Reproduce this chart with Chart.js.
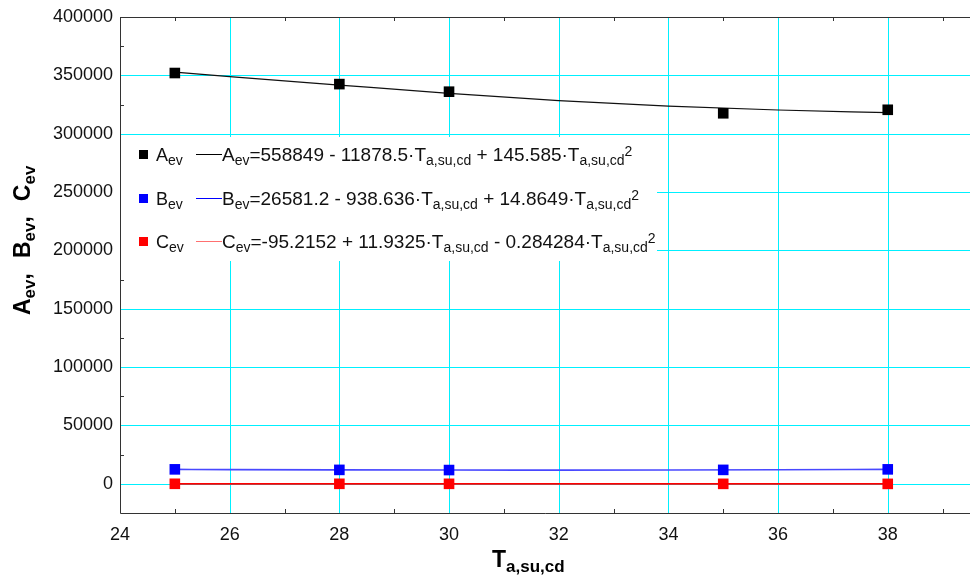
<!DOCTYPE html>
<html>
<head>
<meta charset="utf-8">
<script src="https://cdn.jsdelivr.net/npm/chart.js@4/dist/chart.umd.min.js"></script>
<style>
  html, body { margin: 0; padding: 0; background: #fff; }
  canvas { display: block; }
</style>
</head>
<body>
<canvas id="evChart" width="970" height="581"></canvas>
<script>
// ── Data ─────────────────────────────────────────────────────
var xTicks = [24, 26, 28, 30, 32, 34, 36, 38];
var yTicks = [0, 50000, 100000, 150000, 200000, 250000, 300000, 350000, 400000];

var tempPoints = [25, 28, 30, 35, 38];
var aValues = [352000, 342500, 336000, 317500, 320500];
var bValues = [12400, 11950, 11800, 11950, 12400];
var cValues = [25, 15, 5, -15, -50];

// regression curves, sampled along the temperature axis
var fitTemps = [25, 26, 28, 30, 32, 34, 36, 38];
var aFit = [352800, 348900, 341700, 334600, 328300, 323700, 320300, 318000];
var bFit = [12400, 12200, 11950, 11800, 11750, 11850, 12050, 12400];
var cFit = [25, 20, 15, 5, -5, -20, -35, -50];

var seriesNames = ['A', 'B', 'C'];
var eqHead = ['=558849 - 11878.5·T', '=26581.2 - 938.636·T', '=-95.2152 + 11.9325·T'];
var eqTail = [' + 145.585·T', ' + 14.8649·T', ' - 0.284284·T'];

var FONT = '"Liberation Sans", Arial, sans-serif';
var GRID = '#00f0ff';
var AXIS = '#333';

function pts(xs, ys) {
  return xs.map(function(x, i) { return { x: x, y: ys[i] }; });
}

// ── Rich text helper (sub/superscripts) ──────────────────────
function drawRuns(ctx, runs, x, y) {
  runs.forEach(function(r) {
    ctx.font = (r.bold ? 'bold ' : '') + r.size + 'px ' + FONT;
    ctx.fillText(r.t, x, y + (r.dy || 0));
    x += ctx.measureText(r.t).width + (r.gap || 0);
  });
  return x;
}

// ── Crisp cyan grid under the data ───────────────────────────
var gridPlugin = {
  id: 'cyanGrid',
  beforeDatasetsDraw: function(chart) {
    var ctx = chart.ctx, a = chart.chartArea;
    ctx.save();
    ctx.strokeStyle = GRID;
    ctx.lineWidth = 1;
    ctx.beginPath();
    xTicks.forEach(function(t) {
      var px = Math.round(chart.scales.x.getPixelForValue(t)) + 0.5;
      ctx.moveTo(px, a.top); ctx.lineTo(px, a.bottom);
    });
    yTicks.forEach(function(v) {
      var py = Math.round(chart.scales.y.getPixelForValue(v)) + 0.5;
      ctx.moveTo(a.left, py); ctx.lineTo(a.right, py);
    });
    ctx.stroke();
    ctx.restore();
  }
};

// ── Axes, minor ticks, titles, legend ────────────────────────
var decorPlugin = {
  id: 'decor',
  afterDraw: function(chart) {
    var ctx = chart.ctx, a = chart.chartArea;
    var xs = chart.scales.x, ys = chart.scales.y;
    ctx.save();

    // axis frame: left, bottom, top
    ctx.strokeStyle = AXIS;
    ctx.lineWidth = 1;
    ctx.beginPath();
    ctx.moveTo(a.left + 0.5, a.top); ctx.lineTo(a.left + 0.5, a.bottom + 0.5);
    ctx.lineTo(a.right, a.bottom + 0.5);
    ctx.moveTo(a.left, a.top + 0.5); ctx.lineTo(a.right, a.top + 0.5);
    ctx.stroke();

    // minor ticks
    ctx.beginPath();
    for (var t = 25; t < 40; t += 2) {
      var px = Math.round(xs.getPixelForValue(t)) + 0.5;
      ctx.moveTo(px, a.bottom); ctx.lineTo(px, a.bottom - 4);
      ctx.moveTo(px, a.top); ctx.lineTo(px, a.top + 4);
    }
    for (var v = 25000; v < 400000; v += 50000) {
      var py = Math.round(ys.getPixelForValue(v)) + 0.5;
      ctx.moveTo(a.left, py); ctx.lineTo(a.left + 4, py);
    }
    ctx.stroke();

    // legend panel
    ctx.fillStyle = '#fff';
    ctx.fillRect(a.left + 1, 137, 536, 124);
    var rowsY = [154, 198, 241];
    var markColors = ['#000', '#0000ff', '#ff0000'];
    var lineColors = ['#000', '#0000ff', '#ff7070'];
    ctx.textBaseline = 'alphabetic';
    ctx.textAlign = 'left';
    rowsY.forEach(function(ry, i) {
      ctx.fillStyle = markColors[i];
      ctx.fillRect(139, ry - 4, 9, 9);
      ctx.fillStyle = '#111';
      drawRuns(ctx, [
        { t: seriesNames[i], size: 18 },
        { t: 'ev', size: 14, dy: 4 }
      ], 156, ry + 7);
      ctx.strokeStyle = lineColors[i];
      ctx.beginPath();
      ctx.moveTo(196, ry + 0.5); ctx.lineTo(222, ry + 0.5);
      ctx.stroke();
      drawRuns(ctx, [
        { t: seriesNames[i], size: 19 },
        { t: 'ev', size: 14, dy: 4 },
        { t: eqHead[i], size: 19 },
        { t: 'a,su,cd', size: 14, dy: 4 },
        { t: eqTail[i], size: 19 },
        { t: 'a,su,cd', size: 14, dy: 4 },
        { t: '2', size: 14, dy: -5 }
      ], 222, ry + 7);
    });

    // x title
    ctx.fillStyle = '#000';
    drawRuns(ctx, [
      { t: 'T', size: 23, bold: true },
      { t: 'a,su,cd', size: 17, bold: true, dy: 5 }
    ], 492, 567);

    // y title, rotated
    ctx.save();
    ctx.translate(30, 315);
    ctx.rotate(-Math.PI / 2);
    var yRuns = [];
    seriesNames.forEach(function(n, i) {
      yRuns.push({ t: n, size: 23, bold: true });
      yRuns.push({ t: 'ev', size: 17, bold: true, dy: 5 });
      if (i < seriesNames.length - 1) yRuns.push({ t: ',', size: 23, bold: true, gap: 15 });
    });
    drawRuns(ctx, yRuns, 0, 0);
    ctx.restore();

    ctx.restore();
  }
};

// ── Chart ────────────────────────────────────────────────────
new Chart(document.getElementById('evChart'), {
  type: 'scatter',
  data: {
    datasets: [
      { data: pts(tempPoints, aValues), backgroundColor: '#000', borderColor: '#000', pointStyle: 'rect', pointRadius: 7.5, borderWidth: 0, order: 0 },
      { data: pts(tempPoints, bValues), backgroundColor: '#0000ff', borderColor: '#0000ff', pointStyle: 'rect', pointRadius: 7.5, borderWidth: 0, order: 0 },
      { data: pts(tempPoints, cValues), backgroundColor: '#ff0000', borderColor: '#ff0000', pointStyle: 'rect', pointRadius: 7.5, borderWidth: 0, order: 0 },
      { data: pts(fitTemps, aFit), showLine: true, borderColor: '#111', borderWidth: 1.2, pointRadius: 0, cubicInterpolationMode: 'monotone', order: 1 },
      { data: pts(fitTemps, bFit), showLine: true, borderColor: '#4848ff', borderWidth: 1.6, pointRadius: 0, cubicInterpolationMode: 'monotone', order: 1 },
      { data: pts(fitTemps, cFit), showLine: true, borderColor: '#ff0000', borderWidth: 1.8, pointRadius: 0, cubicInterpolationMode: 'monotone', order: 1 }
    ]
  },
  options: {
    responsive: false,
    animation: false,
    layout: { autoPadding: false, padding: { left: 0, top: 17, right: 0, bottom: 0 } },
    plugins: { legend: { display: false }, tooltip: { enabled: false } },
    scales: {
      x: {
        type: 'linear', min: 24, max: 39.5,
        afterBuildTicks: function(s) { s.ticks = xTicks.map(function(v) { return { value: v }; }); },
        afterFit: function(s) { s.height = 68; s.paddingLeft = 0; s.paddingRight = 0; },
        border: { display: false },
        grid: { display: false, drawTicks: false },
        ticks: { color: '#111', padding: 11, maxRotation: 0, font: { size: 18, family: FONT },
                 callback: function(v) { return String(v); } }
      },
      y: {
        type: 'linear', min: -25000, max: 400000,
        afterBuildTicks: function(s) { s.ticks = yTicks.map(function(v) { return { value: v }; }); },
        afterFit: function(s) { s.width = 120; s.paddingTop = 0; s.paddingBottom = 0; },
        border: { display: false },
        grid: { display: false, drawTicks: false },
        ticks: { color: '#111', padding: 7, font: { size: 18, family: FONT },
                 callback: function(v) { return String(v); } }
      }
    }
  },
  plugins: [gridPlugin, decorPlugin]
});
</script>
</body>
</html>
